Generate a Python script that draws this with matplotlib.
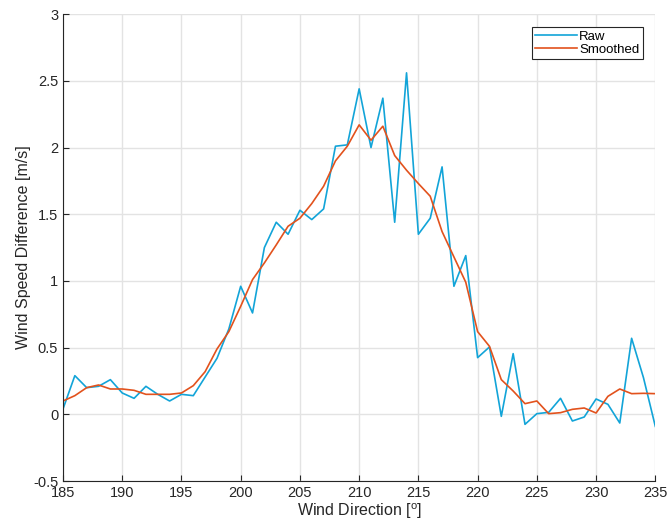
import matplotlib
matplotlib.use('Agg')
import matplotlib.pyplot as plt
import numpy as np

plt.rcParams['font.family'] = ['Liberation Sans', 'DejaVu Sans']
plt.rcParams['mathtext.fontset'] = 'custom'
plt.rcParams['mathtext.rm'] = 'Liberation Sans'

# wind direction in degrees
direction = np.arange(185, 236)

raw = [0.04, 0.29, 0.20, 0.21, 0.26, 0.16, 0.12, 0.21, 0.15, 0.10,
       0.15, 0.14, 0.28, 0.42, 0.64, 0.96, 0.76, 1.25, 1.44, 1.35,
       1.53, 1.46, 1.54, 2.01, 2.02, 2.44, 2.00, 2.37, 1.44, 2.56,
       1.35, 1.47, 1.855, 0.96, 1.19, 0.425, 0.505, -0.015, 0.455, -0.075,
       0.005, 0.015, 0.12, -0.05, -0.02, 0.115, 0.075, -0.065, 0.57, 0.275,
       -0.09]

smoothed = [0.10, 0.14, 0.20, 0.22, 0.19, 0.19, 0.18, 0.15, 0.15, 0.15,
            0.16, 0.215, 0.32, 0.49, 0.62, 0.81, 1.01, 1.135, 1.27, 1.41,
            1.47, 1.58, 1.71, 1.90, 2.01, 2.17, 2.055, 2.16, 1.94, 1.83,
            1.73, 1.635, 1.37, 1.18, 0.99, 0.62, 0.51, 0.26, 0.175, 0.08,
            0.10, 0.005, 0.0125, 0.0375, 0.0475, 0.01, 0.135, 0.19, 0.155, 0.1575,
            0.155]

fig = plt.figure(figsize=(6.68, 5.24), dpi=100)
ax = fig.add_axes([0.0943, 0.082, 0.8867, 0.891])

ax.plot(direction, raw, color='#12A4D8', lw=1.2, label='Raw')
ax.plot(direction, smoothed, color='#E2521D', lw=1.2, label='Smoothed')

ax.set_xlim(185, 235)
ax.set_ylim(-0.5, 3)
ax.set_xticks(np.arange(185, 236, 5))
ax.set_yticks(np.arange(-0.5, 3.01, 0.5))
ax.set_yticklabels(['-0.5', '0', '0.5', '1', '1.5', '2', '2.5', '3'])

ax.grid(True, color='#E3E3E3', lw=1)
ax.set_axisbelow(True)
ax.spines['top'].set_visible(False)
ax.spines['right'].set_visible(False)
ax.spines['left'].set_color('#262626')
ax.spines['bottom'].set_color('#262626')
ax.tick_params(direction='in', length=4, width=0.8, colors='#262626',
               labelsize=10.5, labelcolor='#262626')

ax.set_xlabel('Wind Direction [$^\\mathrm{o}$]', fontsize=11.5, color='#262626', labelpad=1)
ax.set_ylabel('Wind Speed Difference [m/s]', fontsize=11.5, color='#262626', labelpad=1)

leg = ax.legend(loc='upper right', bbox_to_anchor=(0.979, 0.9715), fontsize=9.5,
                fancybox=False, framealpha=1, edgecolor='#262626',
                handlelength=3.2, handletextpad=0.15, labelspacing=0.05,
                borderpad=0.25, borderaxespad=0)
leg.get_frame().set_linewidth(0.8)

fig.savefig('out.png', dpi=100)
